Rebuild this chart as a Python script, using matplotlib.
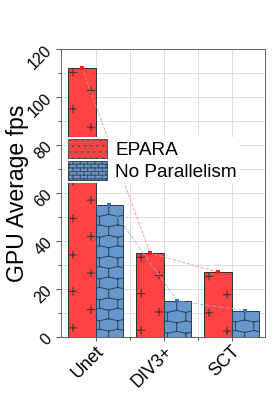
import numpy as np
import matplotlib
matplotlib.use('Agg')
import matplotlib.pyplot as plt
import matplotlib.hatch as mhatch
from matplotlib.path import Path
from matplotlib.patches import Patch
from matplotlib.ticker import MultipleLocator, FixedLocator

# ---------------- data ----------------
categories = ['Unet', 'DIV3+', 'SCT']
epara = [112, 35, 27]
no_parallelism = [55, 15, 11]
series_labels = ['EPARA', 'No Parallelism']
yticks = [0, 20, 40, 60, 80, 100, 120]

# ---------------- setup ----------------
DPI = 146
W, H = 280, 398
def P(px):
    return px * 72.0 / DPI

plt.rcParams['font.family'] = ['Liberation Sans', 'DejaVu Sans']
plt.rcParams['hatch.linewidth'] = P(1.0)

RED = '#FF4242'
BLUE = '#6798CD'
EDGE = '#333333'

fig = plt.figure(figsize=((W + 0.01) / DPI, (H + 0.01) / DPI), dpi=DPI)
ax = fig.add_axes([61 / W, 1 - 337 / H, 204 / W, 288 / H])
x = np.arange(len(categories))
bw = 0.4
ax.set_xlim(-0.51, 2.49)
ax.set_ylim(0, 120)

# ---------------- custom hatches anchored to each bar ----------------
CELL = float(int(DPI))
Himg = int(fig.bbox.height)
HATCH_SEGS = {}

def pix(xd, yd):
    X, Yd = ax.transData.transform((xd, yd))
    return X, Himg - Yd

def to_unit_segs(segs):
    out = []
    for (x0, y0, x1, y1) in segs:
        rx = np.floor(x0 / CELL) * CELL
        ry = np.floor(y0 / CELL) * CELL
        u0, u1 = (x0 - rx) / CELL, (x1 - rx) / CELL
        v0, v1 = 1 - (y0 - ry) / CELL, 1 - (y1 - ry) / CELL
        for du in (-1, 0, 1):
            for dv in (-1, 0, 1):
                out.append(((u0 + du, v0 + dv), (u1 + du, v1 + dv)))
    return out

def plus_segs(left, top):
    segs = []
    a = 3.6
    for cdx, cdy in [(4.5, 4.2), (22.5, 22.45)]:
        for k in range(4):
            cx = left + cdx
            cy = top + cdy + 36.5 * k
            segs.append((cx - a, cy, cx + a, cy))
            segs.append((cx, cy - a, cx, cy + a))
    return segs

def brick_segs(left, top, nrows, ncols, j0, d):
    rh = CELL / nrows
    bwp = CELL / ncols
    segs = []
    for k in range(nrows):
        yb = top + k * rh
        below = [left + j0 + (k % 2) * bwp / 2 + bwp * j for j in range(ncols)]
        above = [left + j0 + ((k + 1) % 2) * bwp / 2 + bwp * j for j in range(ncols)]
        pts = sorted([(xx, yb + d) for xx in below] + [(xx, yb - d) for xx in above])
        pts.append((pts[0][0] + CELL, pts[0][1]))
        for p0, p1 in zip(pts[:-1], pts[1:]):
            segs.append((p0[0], p0[1], p1[0], p1[1]))
        for xj in below:
            segs.append((xj, yb + d, xj, yb + rh - d))
    return segs

red_hatches, blue_hatches = [], []
for i in range(len(categories)):
    l, t = pix(x[i] - bw, epara[i])
    key = '*' * (i + 1)
    HATCH_SEGS[key] = to_unit_segs(plus_segs(l, t))
    red_hatches.append(key)
    l, t = pix(x[i], no_parallelism[i])
    key = 'O' * (i + 1)
    HATCH_SEGS[key] = to_unit_segs(brick_segs(l, t, 14, 8, 13, 1.0))
    blue_hatches.append(key)
HATCH_SEGS['o'] = to_unit_segs(brick_segs(0, 0, 40, 20, 0, 0.0))


class BarHatch(mhatch.HatchPatternBase):
    def __init__(self, hatch, density):
        self.segs = HATCH_SEGS.get(hatch, [])
        self.num_vertices = 2 * len(self.segs)

    def set_vertices_and_codes(self, vertices, codes):
        arr = np.asarray(self.segs, float).reshape(-1, 2)
        vertices[:] = arr
        codes[0::2] = Path.MOVETO
        codes[1::2] = Path.LINETO


mhatch._hatch_types = [BarHatch, mhatch.SmallFilledCircles]

# ---------------- grid ----------------
ax.set_axisbelow(True)
ax.yaxis.set_major_locator(FixedLocator(yticks))
ax.yaxis.set_minor_locator(MultipleLocator(10))
ax.set_xticks(x)
ax.set_xticklabels(categories)
ax.xaxis.set_minor_locator(FixedLocator([0.5, 1.5]))
ax.grid(True, which='both', color='#dedede', lw=P(1.0))

# ---------------- bars ----------------
bars_r = ax.bar(x - bw / 2, epara, bw, color=RED, edgecolor=EDGE, lw=P(1.0), zorder=2)
bars_b = ax.bar(x + bw / 2, no_parallelism, bw, color=BLUE, edgecolor=EDGE, lw=P(1.0), zorder=2)
for b, h in zip(bars_r, red_hatches):
    b.set_hatch(h)
    b.set_edgecolor(EDGE)
for b, h in zip(bars_b, blue_hatches):
    b.set_hatch(h)
    b.set_edgecolor('#2f3f52')

# ---------------- connecting lines ----------------
ax.plot(x - bw / 2, epara, color='#ff8a8a', lw=P(0.8), ls=(0, (4, 2)),
        marker='s', ms=P(2.6), mfc='#ff1a1a', mec='#ff1a1a', zorder=3)
ax.plot(x + bw / 2, no_parallelism, color='#92b2d8', lw=P(0.8), ls=(0, (4, 1.5, 1, 1.5)),
        marker='s', ms=P(2.6), mfc='#3a6fb5', mec='#3a6fb5', zorder=3)

# ---------------- axes styling ----------------
for s in ax.spines.values():
    s.set_color('#666666')
    s.set_linewidth(P(1.0))
ax.tick_params(axis='both', which='both', direction='out', colors='#555555',
               labelcolor='black', width=P(1.0))
ax.tick_params(axis='y', which='major', length=P(5), labelsize=P(16), pad=P(1),
               labelrotation=45)
ax.tick_params(axis='y', which='minor', length=P(3))
ax.tick_params(axis='x', which='major', length=P(4), labelsize=P(18), pad=P(2))
ax.tick_params(axis='x', which='minor', length=P(3))
for lbl in ax.get_xticklabels():
    lbl.set_rotation(45)
    lbl.set_ha('right')
    lbl.set_va('top')
    lbl.set_rotation_mode('anchor')

ax.set_ylabel('GPU Average fps', fontsize=P(23))
ax.yaxis.set_label_coords((28.5 - 61) / 204, 0.5)

# ---------------- legend ----------------
handles = [Patch(facecolor=RED, edgecolor='#555555', hatch='....', lw=P(1.0)),
           Patch(facecolor=BLUE, edgecolor='#3c4c60', hatch='o', lw=P(1.0))]
ax.legend(handles, series_labels, loc='upper left',
          bbox_to_anchor=((66 - 61) / 204, (337 - 137) / 288),
          borderaxespad=0, borderpad=0.12, frameon=True, fancybox=False,
          edgecolor='none', facecolor='white', framealpha=1, fontsize=P(19),
          handlelength=2.05, handleheight=1.16, handletextpad=0.42,
          labelspacing=0.1)

fig.savefig('out.png', dpi=DPI)
